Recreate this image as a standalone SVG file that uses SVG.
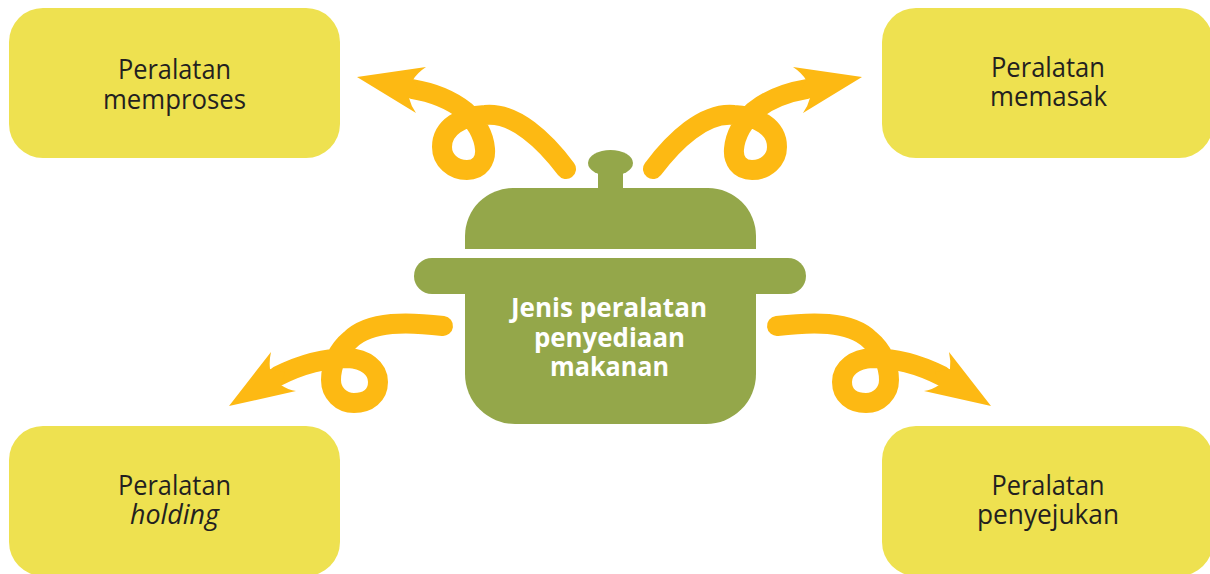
<svg xmlns="http://www.w3.org/2000/svg" width="1210" height="574" viewBox="0 0 1210 574">
<defs>
<style>
.box{fill:#eee150}
.pot{fill:#94a74a}
.t{font-family:"Open Sans","Noto Sans",sans-serif;font-size:27px;fill:#231f20;text-anchor:middle}
.i{font-style:italic}
.b{font-family:"Open Sans","Noto Sans",sans-serif;font-size:27px;font-weight:700;fill:#fff;text-anchor:middle}
.c{fill:none;stroke:#fdb913;stroke-width:20;stroke-linecap:round;stroke-linejoin:round}
.h{fill:#fdb913}
</style>
<g id="arrowTop">
<path class="c" d="M566,169 C545,141 515,112 485,115 C462,116 442,127 442,147 C442,160 453,170 467,170 C480,170 486,160 485,149 C484,135 475,120 465,111 C450,99 430,92 412,89"/>
<path class="h" d="M357,77 L426,67 Q417,73 413,80 L418,90 L409,98 Q411,106 416,113 Z"/>
</g>
<g id="arrowBottom">
<path class="c" d="M443,326 C410,322 370,320 350,340 C338,350 331,365 331,380 C331,393 341,403 354,403 C368,403 378,395 378,382 C378,368 365,359 348,358 C325,358 300,365 278,376"/>
<path class="h" d="M229,406 L271,352 Q269,361 270,369 L285,372 L281,385 Q288,390 296,391 Z"/>
</g>
</defs>
<rect width="1210" height="574" fill="#fff"/>
<g id="connectors">
<use href="#arrowTop"/>
<use href="#arrowTop" transform="translate(1219,0) scale(-1,1)"/>
<use href="#arrowBottom"/>
<use href="#arrowBottom" transform="translate(1220,0) scale(-1,1)"/>
</g>
<g id="node-memproses">
<rect class="box" x="9" y="8" width="331" height="150" rx="34"/>
<text class="t" x="174.5" y="79" textLength="113" lengthAdjust="spacingAndGlyphs">Peralatan</text>
<text class="t" x="174.5" y="109" textLength="143" lengthAdjust="spacingAndGlyphs">memproses</text>
</g>
<g id="node-memasak">
<rect class="box" x="882" y="8" width="331" height="150" rx="34"/>
<text class="t" x="1048" y="77" textLength="114" lengthAdjust="spacingAndGlyphs">Peralatan</text>
<text class="t" x="1048.5" y="106" textLength="117" lengthAdjust="spacingAndGlyphs">memasak</text>
</g>
<g id="node-holding">
<rect class="box" x="9" y="426" width="331" height="150" rx="34"/>
<text class="t" x="174.5" y="495" textLength="113" lengthAdjust="spacingAndGlyphs">Peralatan</text>
<text class="t i" x="174.5" y="524" textLength="89" lengthAdjust="spacingAndGlyphs">holding</text>
</g>
<g id="node-penyejukan">
<rect class="box" x="882" y="426" width="331" height="150" rx="34"/>
<text class="t" x="1048" y="495" textLength="113" lengthAdjust="spacingAndGlyphs">Peralatan</text>
<text class="t" x="1048" y="524" textLength="142" lengthAdjust="spacingAndGlyphs">penyejukan</text>
</g>
<g id="node-pot">
<ellipse class="pot" cx="610.5" cy="163" rx="22.5" ry="13"/>
<rect class="pot" x="598" y="170" width="25" height="19"/>
<path class="pot" d="M465,249 V236 A48,48 0 0 1 513,188 H708 A48,48 0 0 1 756,236 V249 Z"/>
<rect class="pot" x="414" y="258" width="392" height="36" rx="18"/>
<path class="pot" d="M465,290 V374 A50,50 0 0 0 515,424 H706 A50,50 0 0 0 756,374 V290 Z"/>
<text class="b" x="609" y="317" textLength="196" lengthAdjust="spacingAndGlyphs">Jenis peralatan</text>
<text class="b" x="609.5" y="347" textLength="151" lengthAdjust="spacingAndGlyphs">penyediaan</text>
<text class="b" x="609.5" y="376" textLength="119" lengthAdjust="spacingAndGlyphs">makanan</text>
</g>
</svg>
